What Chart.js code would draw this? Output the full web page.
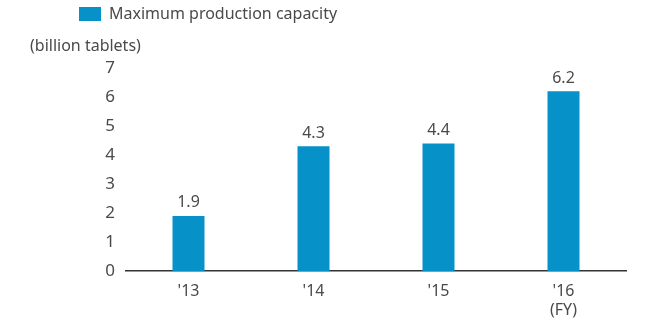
<!DOCTYPE html>
<html lang="en">
<head>
    <meta charset="UTF-8">
    <title>Maximum production capacity</title>
    <script src="https://cdn.jsdelivr.net/npm/chart.js"></script>
    <style>
        html, body { margin: 0; padding: 0; background: #fff; }
        #wrap { width: 648px; height: 325px; }
    </style>
</head>
<body>
    <div id="wrap"><canvas id="capacityChart"></canvas></div>

    <script>
        // data
        const years = [["'13"], ["'14"], ["'15"], ["'16", "(FY)"]];
        const capacity = [1.9, 4.3, 4.4, 6.2];
        const seriesName = 'Maximum production capacity';
        const unitLabel = '(billion tablets)';
        const yTicks = [0, 1, 2, 3, 4, 5, 6, 7];

        const barColor = '#0791c9';
        const textColor = '#4a4a4a';
        const fontFamily = '"Noto Sans", "Open Sans", sans-serif';

        // legend height hack so the plot area starts lower
        const legendHeight = {
            id: 'legendHeight',
            beforeInit(chart) {
                const origFit = chart.legend.fit;
                chart.legend.fit = function () {
                    origFit.bind(chart.legend)();
                    this.height = 68;
                };
            }
        };

        // unit title + value labels above bars
        const extraText = {
            id: 'extraText',
            afterDatasetsDraw(chart) {
                const ctx = chart.ctx;
                ctx.save();
                ctx.fillStyle = textColor;
                ctx.font = '16px ' + fontFamily;
                ctx.textBaseline = 'middle';
                ctx.textAlign = 'left';
                ctx.fillText(unitLabel, 30, 46);

                ctx.textAlign = 'center';
                const meta = chart.getDatasetMeta(0);
                meta.data.forEach((bar, i) => {
                    ctx.fillText(capacity[i].toFixed(1), bar.x, bar.y - 13);
                });
                ctx.restore();
            }
        };

        const ctx = document.getElementById('capacityChart').getContext('2d');
        new Chart(ctx, {
            type: 'bar',
            data: {
                labels: years,
                datasets: [{
                    label: seriesName,
                    data: capacity,
                    backgroundColor: barColor,
                    borderWidth: 0,
                    categoryPercentage: 1,
                    barPercentage: 0.256
                }]
            },
            options: {
                responsive: true,
                maintainAspectRatio: false,
                animation: false,
                layout: { padding: { left: 73, right: 22, top: 0, bottom: 0 } },
                plugins: {
                    legend: {
                        position: 'top',
                        align: 'start',
                        labels: {
                            boxWidth: 22,
                            boxHeight: 14,
                            padding: 6,
                            color: textColor,
                            font: { family: fontFamily, size: 16 }
                        }
                    },
                    tooltip: { enabled: false }
                },
                scales: {
                    x: {
                        grid: { display: false, drawTicks: false },
                        border: { display: true, color: '#333', width: 1.5 },
                        ticks: {
                            color: textColor,
                            padding: 11,
                            font: { family: fontFamily, size: 16 }
                        },
                        afterFit(scale) { scale.height = 54; }
                    },
                    y: {
                        min: 0,
                        max: 7,
                        afterBuildTicks(scale) {
                            scale.ticks = yTicks.map(v => ({ value: v }));
                        },
                        grid: { display: false, drawTicks: false },
                        border: { display: false },
                        ticks: {
                            color: textColor,
                            padding: 11,
                            font: { family: fontFamily, size: 17 }
                        },
                        afterFit(scale) { scale.width = 53; }
                    }
                }
            },
            plugins: [legendHeight, extraText]
        });
    </script>
</body>
</html>
